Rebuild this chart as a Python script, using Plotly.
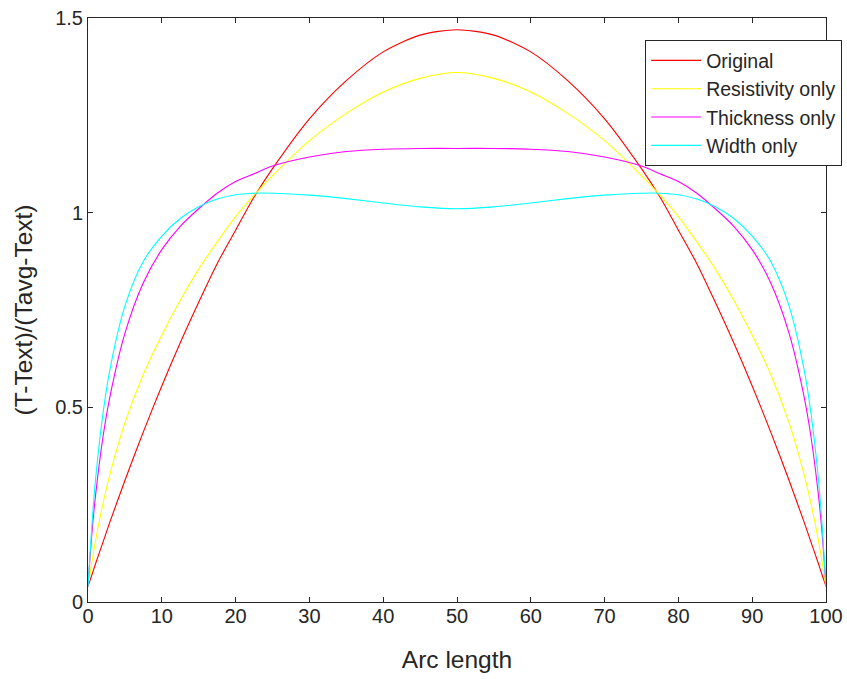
import plotly.graph_objects as go

arc = [0, 0.5, 1, 2, 3, 5, 7.5, 10, 12.5, 15, 17.5, 20, 22.5, 25, 30, 35, 40, 45, 50,
       55, 60, 65, 70, 75, 77.5, 80, 82.5, 85, 87.5, 90, 92.5, 95, 97, 98, 99, 99.5, 100]

original = [0.04, 0.068, 0.097, 0.152, 0.207, 0.312, 0.437, 0.555, 0.666, 0.770, 0.869, 0.955, 1.04, 1.113, 1.241, 1.339, 1.413, 1.456, 1.47,
            1.456, 1.413, 1.339, 1.241, 1.113, 1.04, 0.955, 0.869, 0.770, 0.666, 0.555, 0.437, 0.312, 0.207, 0.152, 0.097, 0.068, 0.04]
resistivity = [0.04, 0.10, 0.155, 0.25, 0.33, 0.46, 0.585, 0.685, 0.775, 0.855, 0.925, 0.99, 1.045, 1.095, 1.185, 1.255, 1.31, 1.345, 1.36,
               1.345, 1.31, 1.255, 1.185, 1.095, 1.045, 0.99, 0.925, 0.855, 0.775, 0.685, 0.585, 0.46, 0.33, 0.25, 0.155, 0.10, 0.04]
thickness = [0.04, 0.17, 0.27, 0.42, 0.53, 0.69, 0.82, 0.905, 0.965, 1.01, 1.05, 1.08, 1.10, 1.12, 1.143, 1.157, 1.163, 1.165, 1.165,
             1.165, 1.163, 1.157, 1.143, 1.12, 1.10, 1.08, 1.05, 1.01, 0.965, 0.905, 0.82, 0.69, 0.53, 0.42, 0.27, 0.17, 0.04]
width = [0.04, 0.19, 0.31, 0.48, 0.60, 0.76, 0.875, 0.94, 0.985, 1.015, 1.035, 1.046, 1.05, 1.05, 1.045, 1.036, 1.025, 1.015, 1.01,
         1.015, 1.025, 1.036, 1.045, 1.05, 1.05, 1.046, 1.035, 1.015, 0.985, 0.94, 0.875, 0.76, 0.60, 0.48, 0.31, 0.19, 0.04]

series = [("Original", original, "#ff0000"),
          ("Resistivity only", resistivity, "#ffff00"),
          ("Thickness only", thickness, "#ff00ff"),
          ("Width only", width, "#00ffff")]

fig = go.Figure()
for i, (name, ys, col) in enumerate(series):
    fig.add_trace(go.Scatter(x=arc, y=ys, mode="lines", name=name, legendgroup=f"g{i}",
                             line=dict(color=col, width=1.1, shape="spline", smoothing=0.8)))

axcol = "#262626"
fig.update_layout(
    width=847, height=679,
    margin=dict(l=88, r=21, t=18, b=77, autoexpand=False),
    paper_bgcolor="white", plot_bgcolor="white",
    font=dict(family="Liberation Sans, Arial, sans-serif", size=15, color=axcol),
    showlegend=True,
    legend=dict(x=0.755, y=0.962, xanchor="left", yanchor="top",
                bordercolor=axcol, borderwidth=1, bgcolor="white",
                font=dict(size=19.5, color=axcol), tracegroupgap=0, itemwidth=50),
    xaxis=dict(range=[0, 100], tickvals=[0, 10, 20, 30, 40, 50, 60, 70, 80, 90, 100],
               ticks="inside", ticklen=5, tickcolor=axcol, showline=True, linecolor=axcol,
               linewidth=1, mirror="ticks", showgrid=False, zeroline=False, automargin=False,
               tickfont=dict(size=20), ticklabelstandoff=-4,
               title=dict(text="Arc length", font=dict(size=24.5), standoff=24)),
    yaxis=dict(range=[0, 1.5], tickvals=[0, 0.5, 1, 1.5], ticktext=["0", "0.5", "1", "1.5"],
               ticks="inside", ticklen=5, tickcolor=axcol, showline=True, linecolor=axcol,
               linewidth=1, mirror="ticks", showgrid=False, zeroline=False, automargin=False,
               tickfont=dict(size=20),
               title=dict(text="(T-Text)/(Tavg-Text)", font=dict(size=24.5), standoff=15)),
)

fig.write_html("out.html")
